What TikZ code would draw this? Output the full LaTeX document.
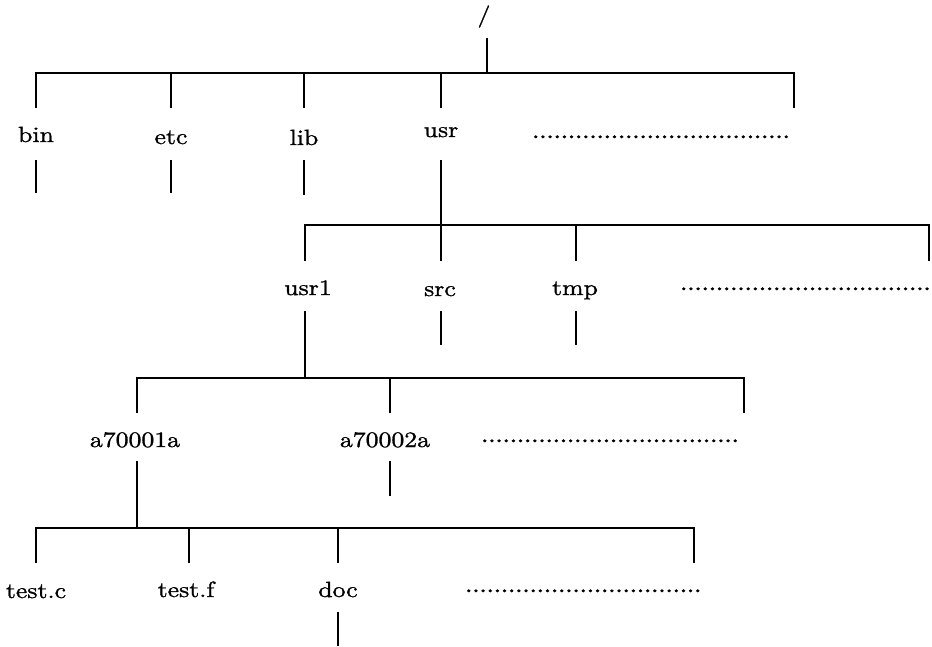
\documentclass[tikz,border=0pt]{standalone}
\usepackage{fontspec}
\setmainfont{lmroman10-regular.otf}[FakeStretch=1.17, FakeBold=1.2]
\newfontfamily\leaderfont{lmroman10-regular.otf}[FakeStretch=1.17, FakeBold=3]
\begin{document}
\begin{tikzpicture}[x=1pt,y=-1pt,
  lbl/.style={font=\fontsize{22}{26}\selectfont, inner sep=0pt, anchor=base},
  dotrow/.style={lbl, font=\fontsize{22}{26}\leaderfont, anchor=base west},
  link/.style={line width=1.8pt, line cap=butt}]
\useasboundingbox (0,0) rectangle (932,646);

% ---------- root ----------
\node[lbl] (root) at (484,22) {/};
\coordinate (root-out) at (487,38);
\coordinate (bar1) at (487,73);
\draw[link] (root-out) -- (bar1);

% ---------- first level ----------
\coordinate (bin-in)   at (36,108);
\coordinate (etc-in)   at (171,108);
\coordinate (lib-in)   at (304,108);
\coordinate (usr-in)   at (441,108);
\coordinate (more1-in) at (794,108);
\draw[link] (bin-in) -- (bin-in |- bar1) -- (more1-in |- bar1) -- (more1-in);
\foreach \n in {etc,lib,usr} \draw[link] (\n-in) -- (\n-in |- bar1);

\node[lbl] (bin) at (36,142) {bin};
\node[lbl] (etc) at (171,144) {etc};
\node[lbl] (lib) at (304,145) {lib};
\node[lbl] (usr) at (441,137) {usr};
\node[dotrow] (more1) at (532,138) {....................................};

\coordinate (bin-out) at (36,160);  \coordinate (bin-end) at (36,193);
\coordinate (etc-out) at (171,160); \coordinate (etc-end) at (171,193);
\coordinate (lib-out) at (304,160); \coordinate (lib-end) at (304,195);
\draw[link] (bin-out) -- (bin-end);
\draw[link] (etc-out) -- (etc-end);
\draw[link] (lib-out) -- (lib-end);

% ---------- usr ----------
\coordinate (usr-out) at (441,160);
\coordinate (bar2) at (441,225);
\draw[link] (usr-out) -- (bar2);

\coordinate (usr1-in)  at (305,261);
\coordinate (src-in)   at (441,261);
\coordinate (tmp-in)   at (576,261);
\coordinate (more2-in) at (929,261);
\draw[link] (usr1-in) -- (usr1-in |- bar2) -- (more2-in |- bar2) -- (more2-in);
\foreach \n in {src,tmp} \draw[link] (\n-in) -- (\n-in |- bar2);

\node[lbl] (usr1) at (308,295) {usr1};
\node[lbl] (src)  at (440,296) {src};
\node[lbl] (tmp)  at (575,295) {tmp};
\node[dotrow] (more2) at (680,290) {...................................};

\coordinate (src-out) at (441,311); \coordinate (src-end) at (441,345);
\coordinate (tmp-out) at (576,311); \coordinate (tmp-end) at (576,345);
\draw[link] (src-out) -- (src-end);
\draw[link] (tmp-out) -- (tmp-end);

% ---------- usr1 ----------
\coordinate (usr1-out) at (305,311);
\coordinate (bar3) at (305,378);
\draw[link] (usr1-out) -- (bar3);

\coordinate (a1-in)    at (137,413);
\coordinate (a2-in)    at (390,413);
\coordinate (more3-in) at (744,413);
\draw[link] (a1-in) -- (a1-in |- bar3) -- (more3-in |- bar3) -- (more3-in);
\draw[link] (a2-in) -- (a2-in |- bar3);

\node[lbl] (a1) at (135,447) {a70001a};
\node[lbl] (a2) at (385,447) {a70002a};
\node[dotrow] (more3) at (481,442) {....................................};

\coordinate (a2-out) at (390,461); \coordinate (a2-end) at (390,496);
\draw[link] (a2-out) -- (a2-end);

% ---------- a70001a ----------
\coordinate (a1-out) at (137,461);
\coordinate (bar4) at (137,528);
\draw[link] (a1-out) -- (bar4);

\coordinate (testc-in) at (36,563);
\coordinate (testf-in) at (189,563);
\coordinate (doc-in)   at (338,563);
\coordinate (more4-in) at (694,563);
\draw[link] (testc-in) -- (testc-in |- bar4) -- (more4-in |- bar4) -- (more4-in);
\foreach \n in {testf,doc} \draw[link] (\n-in) -- (\n-in |- bar4);

\node[lbl] (testc) at (36,598)  {test.c};
\node[lbl] (testf) at (186,597) {test.f};
\node[lbl] (doc)   at (338,597) {doc};
\node[dotrow] (more4) at (465,592) {.................................};

\coordinate (doc-out) at (338,612); \coordinate (doc-end) at (338,646);
\draw[link] (doc-out) -- (doc-end);
\end{tikzpicture}
\end{document}
